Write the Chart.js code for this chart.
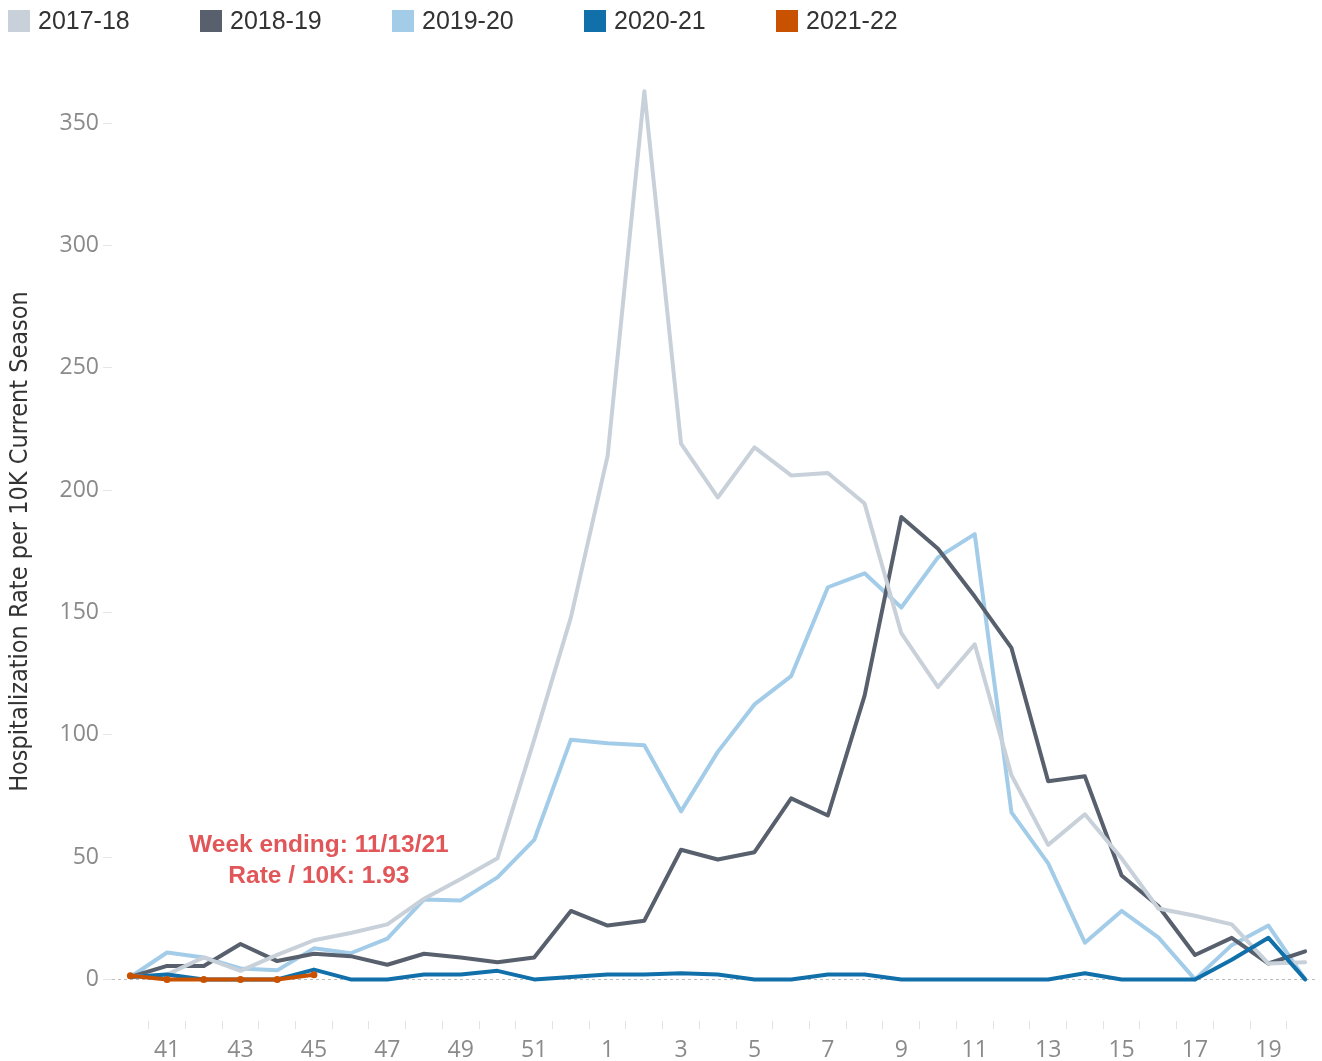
<!DOCTYPE html>
<html lang="en">
<head>
    <meta charset="UTF-8">
    <title>Hospitalization Rate per 10K</title>
    <script src="https://cdn.jsdelivr.net/npm/chart.js"></script>
    <style>
        body {
            margin: 0;
            background: #fff;
            font-family: 'Liberation Sans', Arial, sans-serif;
        }
        .wrap {
            position: relative;
            width: 1322px;
            height: 1061px;
        }
        .legend {
            position: absolute;
            top: 6px;
            left: 8px;
            display: flex;
        }
        .legend-item {
            width: 192px;
            display: flex;
            align-items: center;
            font-size: 25px;
            color: #333;
        }
        .swatch {
            width: 22px;
            height: 22px;
            margin-right: 8px;
        }
    </style>
</head>
<body>
<div class="wrap">
    <canvas id="chart" width="1322" height="1061"></canvas>
    <div class="legend" id="legend"></div>
</div>
<script>
    const weeks = [40, 41, 42, 43, 44, 45, 46, 47, 48, 49, 50, 51, 52,
        1, 2, 3, 4, 5, 6, 7, 8, 9, 10, 11, 12, 13, 14, 15, 16, 17, 18, 19, 20];

    const seasons = ['2017-18', '2018-19', '2019-20', '2020-21', '2021-22'];
    const colors = ['#c8d0d9', '#57606c', '#a3cce9', '#1170aa', '#c85200'];

    const s1718 = [1, 2, 9, 3.5, 10, 16, 19, 22.5, 33, 41, 49.5, 98, 148, 214, 363, 219, 197, 217.5, 206, 207,
        194.5, 141.5, 119.5, 137, 83.5, 55, 67.5, 49.5, 29, 26, 22.5, 6.5, 7];
    const s1819 = [1, 5.5, 5.5, 14.5, 7.5, 10.5, 9.5, 6, 10.5, 9, 7, 9, 28, 22, 24, 53, 49, 52, 74, 67,
        116, 189, 176, 156.5, 135.5, 81, 83, 42.5, 30, 10, 17, 6.5, 11.5];
    const s1920 = [1, 11, 9, 4.5, 3.7, 12.7, 10.7, 16.7, 32.7, 32.3, 41.7, 57, 98, 96.5, 95.7, 68.7, 93, 112.4, 124, 160.3,
        166, 152, 172.5, 182, 68.3, 47.4, 15, 28, 17.2, 0, 14, 22, 0];
    const s2021 = [1, 2, 0, 0, 0, 4, 0, 0, 2, 2, 3.5, 0, 1, 2, 2, 2.5, 2, 0, 0, 2,
        2, 0, 0, 0, 0, 0, 2.5, 0, 0, 0, 8, 17, 0];
    const s2122 = [1.5, 0, 0, 0, 0, 1.93];

    const yTicks = [0, 50, 100, 150, 200, 250, 300, 350];
    const annotation = ['Week ending: 11/13/21', 'Rate / 10K: 1.93'];

    // legend
    const legend = document.getElementById('legend');
    seasons.forEach((s, i) => {
        const item = document.createElement('div');
        item.className = 'legend-item';
        item.innerHTML = '<span class="swatch" style="background:' + colors[i] + '"></span>' + s;
        legend.appendChild(item);
    });

    const toPoints = arr => arr.map((v, i) => ({x: i, y: v}));
    const series = [s1718, s1819, s1920, s2021, s2122];
    const drawOrder = [2, 3, 4, 1, 0];

    const datasets = series.map((arr, i) => ({
        label: seasons[i],
        data: toPoints(arr),
        borderColor: colors[i],
        backgroundColor: colors[i],
        borderWidth: 4,
        borderJoinStyle: 'round',
        borderCapStyle: 'round',
        pointRadius: i === 4 ? 3.5 : 0,
        pointBorderWidth: 0,
        tension: 0,
        order: drawOrder[i]
    }));

    const annotationPlugin = {
        id: 'note',
        afterDatasetsDraw(chart) {
            const ctx = chart.ctx;
            const x = chart.scales.x.getPixelForValue(5) + 5;
            const y = chart.scales.y.getPixelForValue(52);
            ctx.save();
            ctx.fillStyle = '#e15759';
            ctx.font = 'bold 24.5px "Liberation Sans", Arial, sans-serif';
            ctx.textAlign = 'center';
            ctx.textBaseline = 'alphabetic';
            ctx.fillText(annotation[0], x, y);
            ctx.fillText(annotation[1], x, y + 31);
            ctx.restore();
        }
    };

    const tickFont = {family: '"Open Sans", sans-serif', size: 23};

    new Chart(document.getElementById('chart'), {
        type: 'line',
        data: {datasets: datasets},
        options: {
            responsive: false,
            animation: false,
            layout: {padding: {top: 62, right: 0, left: 0, bottom: 0}},
            plugins: {
                legend: {display: false},
                tooltip: {enabled: false}
            },
            scales: {
                x: {
                    type: 'linear',
                    min: -0.5,
                    max: 32.35,
                    afterBuildTicks(scale) {
                        const t = [];
                        for (let i = 0; i < weeks.length; i++) {
                            t.push({value: i});
                            if (i < weeks.length - 1) t.push({value: i + 0.5});
                        }
                        scale.ticks = t;
                    },
                    afterFit(scale) { scale.height = 40; },
                    border: {display: false},
                    grid: {
                        drawOnChartArea: false,
                        drawTicks: true,
                        tickLength: 8,
                        tickColor: ctx => (ctx.tick && ctx.tick.value % 1 !== 0) ? '#e3e3e3' : 'rgba(0,0,0,0)'
                    },
                    ticks: {
                        autoSkip: false,
                        maxRotation: 0,
                        padding: 8,
                        color: '#8a8a8a',
                        font: tickFont,
                        callback: value => (Number.isInteger(value) && weeks[value] % 2 === 1) ? String(weeks[value]) : ''
                    }
                },
                y: {
                    min: -17,
                    max: 375,
                    afterBuildTicks(scale) {
                        scale.ticks = yTicks.map(v => ({value: v}));
                    },
                    afterFit(scale) { scale.width = 112; },
                    border: {display: false, dash: [3, 3]},
                    grid: {
                        drawOnChartArea: true,
                        tickLength: 9,
                        lineWidth: 1,
                        color: ctx => (ctx.tick && ctx.tick.value === 0) ? '#bdbdbd' : 'rgba(0,0,0,0)',
                        tickColor: '#e6e6e6',
                        tickBorderDash: []
                    },
                    ticks: {
                        padding: 4,
                        color: '#8a8a8a',
                        font: tickFont
                    },
                    title: {
                        display: true,
                        text: 'Hospitalization Rate per 10K Current Season',
                        color: '#333',
                        font: {family: '"Liberation Sans Narrow", "DejaVu Sans Condensed", sans-serif', size: 25},
                        padding: {top: 5, bottom: 0}
                    }
                }
            }
        },
        plugins: [annotationPlugin]
    });
</script>
</body>
</html>
